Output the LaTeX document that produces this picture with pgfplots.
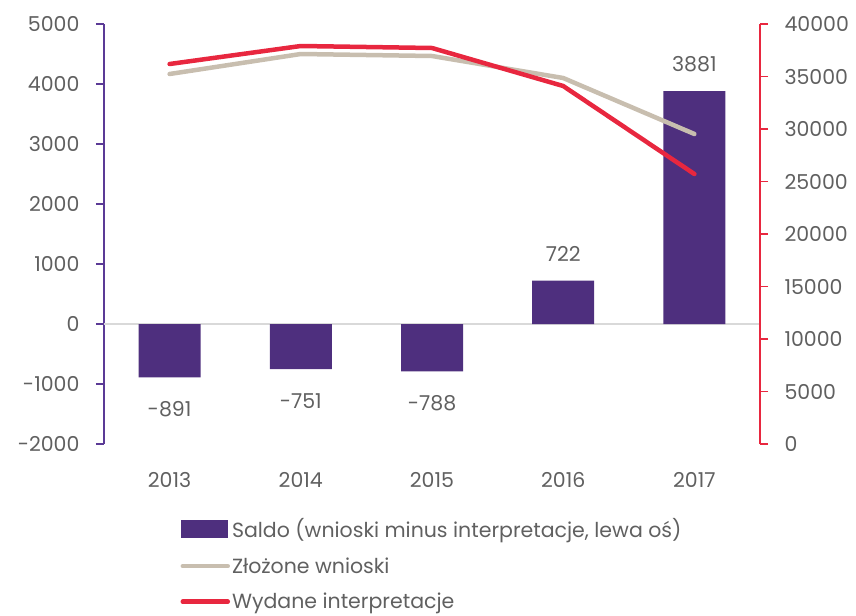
\documentclass[border=0pt]{standalone}
\usepackage{pgfplots}
\pgfplotsset{compat=1.18}
\usepackage{fontspec}
\setmainfont{Poppins}
\definecolor{barpurple}{HTML}{4E2F7E}
\definecolor{axpurple}{HTML}{5B3A96}
\definecolor{lred}{HTML}{E8273F}
\definecolor{beige}{HTML}{C8BEAF}
\definecolor{txt}{HTML}{606060}
\newcommand{\fs}{\fontsize{20.5bp}{24bp}\selectfont}
\begin{document}
\begin{tikzpicture}[font=\fs\color{txt}]
\pgfplotsset{
  base/.style={
    scale only axis, width=656bp, height=420bp,
    xmin=-0.5, xmax=4.5,
    scaled y ticks=false,
    tick label style={text=txt, font=\fs},
    major tick length=8bp, tick align=outside,
  },
  lab/.style={point meta=explicit symbolic, nodes near coords,
    every node near coord/.append style={text=txt, font=\fs, inner sep=0pt, anchor=#1}},
}
\begin{axis}[base,
  ymin=-2000, ymax=5000,
  ytick={-2000,-1000,...,5000},
  yticklabels={-2000,-1000,0,1000,2000,3000,4000,5000},
  axis y line*=left,
  axis x line*=bottom,
  x axis line style={draw=none},
  xtick={0,1,2,3,4},
  xticklabels={2013,2014,2015,2016,2017},
  xtick style={draw=none},
  xticklabel style={yshift=-17bp},
  y axis line style={draw=axpurple, line width=1.5bp},
  ytick style={draw=axpurple, line width=1.5bp},
  yticklabel style={xshift=-13bp},
  clip=false,
]
\coordinate (nw) at (rel axis cs:0,1);
\coordinate (se) at (rel axis cs:1,0);
\addplot[draw=black!15, line width=1.5bp] coordinates {(-0.5,0) (4.5,0)};
\addplot[ybar, bar width=62bp, bar shift=0pt, fill=barpurple, draw=none,
  lab=north, every node near coord/.append style={yshift=-24bp}]
  coordinates {(0,-891) [-891] (1,-751) [-751] (2,-788) [-788]};
\addplot[ybar, bar width=62bp, bar shift=0pt, fill=barpurple, draw=none,
  lab=south, every node near coord/.append style={yshift=19bp}]
  coordinates {(3,722) [722] (4,3881) [3881]};
\end{axis}
\begin{axis}[base,
  ymin=0, ymax=40000,
  ytick={0,5000,...,40000},
  yticklabels={0,5000,10000,15000,20000,25000,30000,35000,40000},
  axis y line*=right,
  axis x line=none,
  y axis line style={draw=lred, line width=1.5bp},
  ytick style={draw=lred, line width=1.5bp},
  yticklabel style={xshift=13bp},
  legend style={at={(0.5,-0.172)}, anchor=north, draw=none, fill=none,
    inner sep=0pt, row sep=14.5bp, cells={anchor=west, text=txt},
    font=\fs},
  legend cell align=left,
]
\addlegendimage{area legend, fill=barpurple, draw=none,
  legend image code/.code={\fill[barpurple] (0bp,-9bp) rectangle (47bp,9bp);}}
\addlegendentry{Saldo (wnioski minus interpretacje, lewa oś)}
\addplot[beige, line width=4.5bp, line cap=round, line join=round,
  legend image code/.code={\draw[beige, line width=4.5bp, line cap=round] (2bp,0) -- (47bp,0);}]
  coordinates {(0,35238) (1,37143) (2,36952) (3,34857) (4,29524)};
\addlegendentry{Złożone wnioski}
\addplot[lred, line width=4.5bp, line cap=round, line join=round,
  legend image code/.code={\draw[lred, line width=4.5bp, line cap=round] (2bp,0) -- (47bp,0);}]
  coordinates {(0,36190) (1,37905) (2,37714) (3,34095) (4,25714)};
\addlegendentry{Wydane interpretacje}
\end{axis}
\pgfresetboundingbox
\path[use as bounding box] ([shift={(-104bp,24bp)}]nw) rectangle ([shift={(96bp,-171bp)}]se);
\end{tikzpicture}
\end{document}
